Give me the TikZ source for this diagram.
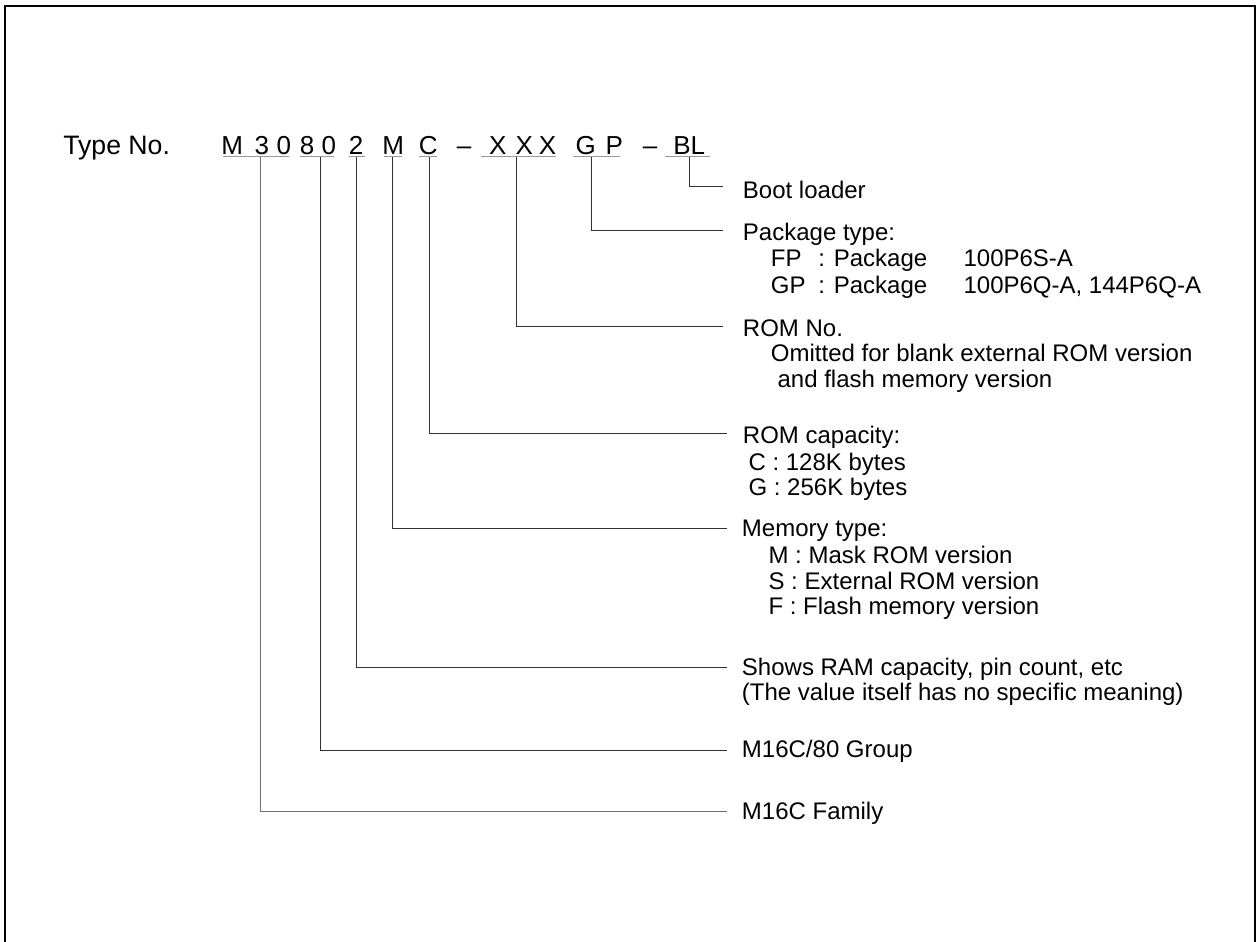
\documentclass[tikz,border=0pt]{standalone}
\usepackage{fontspec}
\setmainfont{Liberation Sans}
\begin{document}
\begin{tikzpicture}[x=0.75pt,y=-0.75pt,
  lbl/.style={anchor=base west,inner sep=0pt,font=\fontsize{18}{21}\selectfont},
  tn/.style={anchor=base,inner sep=0pt,font=\fontsize{19.5}{22}\selectfont},
  ul/.style={draw=black!40,line width=0.9pt},
  conn/.style={draw=black!80,line width=0.75pt},
  frame/.style={draw=black,line width=1.5pt}]
\useasboundingbox (0,0) rectangle (1256,942);
% frame (open at the bottom)
\draw[frame] (5.3,942) -- (5.3,6) -- (1255,6) -- (1255,942);

% type number
\node[anchor=base west,inner sep=0pt,font=\fontsize{20}{22}\selectfont] (type) at (63,154) {Type No.};
\foreach \ch/\x [count=\i] in {M/232.3,3/261.8,0/283.8,8/307,0/328.8,2/356.2,M/393.3,C/428.3,–/464,X/497.8,X/524.3,X/547.5,G/585.8,P/614.2,–/650,BL/689.2}
  \node[tn] (c\i) at (\x,154) {\ch};

% underlines
\draw[ul] (222.7,156.7) -- (289.3,156.7);
\draw[ul] (300,156.7) -- (334.3,156.7);
\draw[ul] (349,156.7) -- (365,156.7);
\draw[ul] (384.3,156.7) -- (402.3,156.7);
\draw[ul] (419.3,156.7) -- (437.3,156.7);
\draw[ul] (480.7,156.7) -- (556,156.7);
\draw[ul] (572.7,156.7) -- (620,156.7);
\draw[ul] (665,156.7) -- (710,156.7);

% connector start points (on the underlines)
\coordinate (v1) at (260,157);
\coordinate (v2) at (320,157);
\coordinate (v3) at (356.7,157);
\coordinate (v4) at (392.7,157);
\coordinate (v5) at (429.3,157);
\coordinate (v6) at (516.7,157);
\coordinate (v7) at (591.7,157);
\coordinate (v8) at (689.3,157);

% connector end points
\coordinate (e8) at (723,186.7);
\coordinate (e7) at (723,230);
\coordinate (e6) at (723,326);
\coordinate (e5) at (727,433.3);
\coordinate (e4) at (727,528.3);
\coordinate (e3) at (727,667.3);
\coordinate (e2) at (727,750);
\coordinate (e1) at (727,811.7);

\draw[conn] (v8) |- (e8);
\draw[conn] (v7) |- (e7);
\draw[conn] (v6) |- (e6);
\draw[conn] (v5) |- (e5);
\draw[conn] (v4) |- (e4);
\draw[conn] (v3) |- (e3);
\draw[conn] (v2) |- (e2);
\draw[conn,draw=black!55] (v1) |- (e1);

% labels
\node[lbl] (boot) at (742.7,198.3) {Boot loader};

\node[lbl] (pkg) at (742.7,240) {Package type:};
\node[lbl] (fp) at (770.7,266.7) {FP};
\node[lbl] (fpp) at (818,266.7) {: Package};
\node[lbl] (fpv) at (963.3,266.7) {100P6S-A};
\node[lbl] (gp) at (770.7,293.3) {GP};
\node[lbl] (gpp) at (818,293.3) {: Package};
\node[lbl] (gpv) at (963.3,293.3) {100P6Q-A, 144P6Q-A};

\node[lbl] (romno) at (742.7,336.7) {ROM No.};
\node[lbl] (omit) at (770.7,361.7) {Omitted for blank external ROM version};
\node[lbl] (omit2) at (777.3,387.3) {and flash memory version};

\node[lbl] (romcap) at (742.7,443) {ROM capacity:};
\node[lbl] (capc) at (748.3,470) {C : 128K bytes};
\node[lbl] (capg) at (748.3,495.5) {G : 256K bytes};

\node[lbl] (mem) at (741.7,536.7) {Memory type:};
\node[lbl] (memm) at (768.3,563.3) {M : Mask ROM version};
\node[lbl] (mems) at (768.3,589.3) {S : External ROM version};
\node[lbl] (memf) at (768.3,614) {F : Flash memory version};

\node[lbl] (ram) at (741.7,675) {Shows RAM capacity, pin count, etc};
\node[lbl] (ram2) at (741.7,700.5) {(The value itself has no specific meaning)};

\node[lbl] (grp) at (741.7,757.7) {M16C/80 Group};
\node[lbl] (fam) at (741.7,819.3) {M16C Family};
\end{tikzpicture}
\end{document}
